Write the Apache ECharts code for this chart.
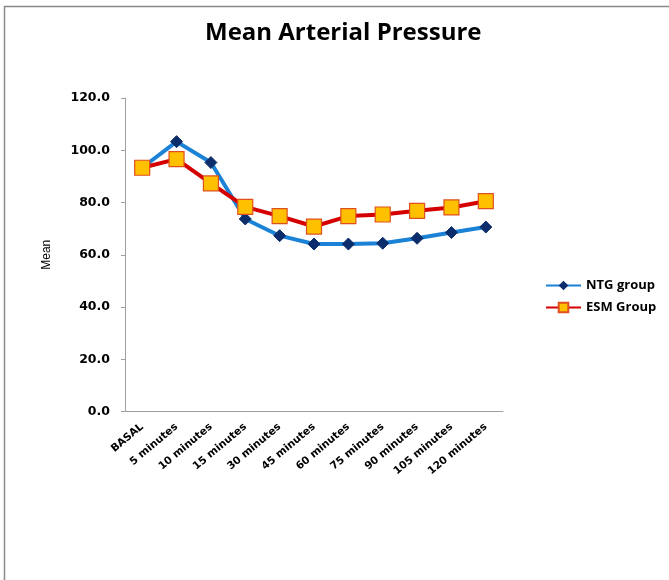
<!DOCTYPE html>
<html>
<head>
<meta charset="utf-8">
<script src="https://cdn.jsdelivr.net/npm/echarts@6/dist/echarts.min.js"></script>
<style>html,body{margin:0;padding:0;background:#fff}#c{width:669px;height:580px}</style>
</head>
<body>
<div id="c"></div>
<script>
const categories = ['BASAL','5 minutes','10 minutes','15 minutes','30 minutes','45 minutes','60 minutes','75 minutes','90 minutes','105 minutes','120 minutes'];
const ntgValues = [93.3, 103.3, 95.3, 73.7, 67.3, 64.1, 64.1, 64.4, 66.3, 68.5, 70.6];
const esmValues = [93.3, 96.6, 87.3, 78.3, 74.8, 70.8, 74.8, 75.4, 76.8, 78.1, 80.5];
const yTicks = [0, 20, 40, 60, 80, 100, 120];

const chart = echarts.init(document.getElementById('c'));
const font = '"Open Sans", sans-serif';
const dv = '"DejaVu Sans", sans-serif';
chart.setOption({
  animation: false,
  backgroundColor: '#fff',
  graphic: [{
    type: 'rect', shape: {x: 4.5, y: 6.5, width: 700, height: 600},
    style: {fill: 'none', stroke: '#8a8a8a', lineWidth: 1.5}, silent: true
  }],
  title: {
    text: 'Mean Arterial Pressure', left: 200, top: 16,
    textStyle: {fontFamily: font, fontWeight: 'bold', fontSize: 24, color: '#000'}
  },
  legend: {
    orient: 'vertical', left: 540, top: 274, itemGap: 9, itemWidth: 35, itemHeight: 12,
    textStyle: {fontFamily: font, fontWeight: 'bold', fontSize: 13, color: '#000'},
    data: ['NTG group', 'ESM Group']
  },
  grid: {left: 125, right: 166, top: 98, bottom: 168.5, containLabel: false},
  xAxis: {
    type: 'category', data: categories, boundaryGap: true,
    axisLine: {lineStyle: {color: '#a0a0a0', width: 1}},
    axisTick: {show: false},
    axisLabel: {rotate: 40, interval: 0, margin: 14, fontFamily: dv, fontWeight: 'bold', fontSize: 10.5, color: '#000'}
  },
  yAxis: {
    type: 'value', min: yTicks[0], max: yTicks[yTicks.length - 1], interval: 20,
    name: 'Mean', nameLocation: 'middle', nameGap: 72, nameRotate: 90,
    nameTextStyle: {fontFamily: '"Liberation Sans", sans-serif', fontSize: 12, color: '#000'},
    axisLine: {show: true, lineStyle: {color: '#a0a0a0', width: 1}},
    axisTick: {show: true, length: 4, lineStyle: {color: '#a0a0a0'}},
    splitLine: {show: false},
    axisLabel: {margin: 15, fontFamily: dv, fontWeight: 'bold', fontSize: 12.5, color: '#000',
      formatter: v => v.toFixed(1)}
  },
  series: [
    {
      name: 'NTG group', type: 'line', data: ntgValues,
      lineStyle: {color: '#1b82d6', width: 4},
      itemStyle: {color: '#0c2d6b', borderColor: '#0c2d6b'},
      symbol: 'diamond', symbolSize: 12, z: 2
    },
    {
      name: 'ESM Group', type: 'line', data: esmValues,
      lineStyle: {color: '#d40000', width: 4},
      itemStyle: {color: '#ffc000', borderColor: '#e0501e', borderWidth: 1.2},
      symbol: 'rect', symbolSize: 15, z: 3
    }
  ]
});
</script>
</body>
</html>
